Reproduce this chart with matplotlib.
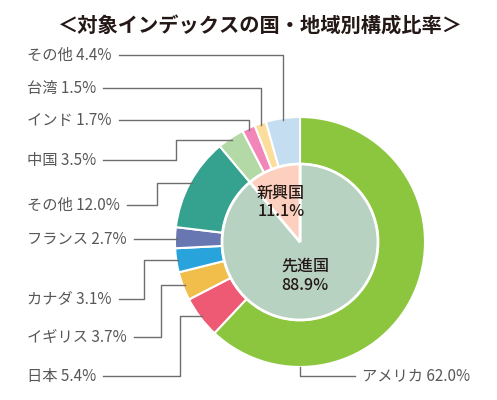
import matplotlib
matplotlib.use("Agg")
import matplotlib.pyplot as plt
import numpy as np

plt.rcParams['font.family'] = ['Noto Sans CJK JP', 'DejaVu Sans']

TITLE = "＜対象インデックスの国・地域別構成比率＞"

countries = ["アメリカ", "日本", "イギリス", "カナダ", "フランス",
             "その他", "中国", "インド", "台湾", "その他"]
shares = [62.0, 5.4, 3.7, 3.1, 2.7, 12.0, 3.5, 1.7, 1.5, 4.4]
country_colors = ["#8CC63E", "#EE5A73", "#F2BE4B", "#29A3DB", "#6877B1",
                  "#34A28F", "#B3DAA6", "#F286B8", "#FDDD9C", "#C4DDF1"]

groups = ["先進国", "新興国"]
group_shares = [88.9, 11.1]
group_colors = ["#B7D2C0", "#FCCFBE"]

# layout (pixels, y measured from the top of the image)
W, H = 497, 400
CX, CY = 300, 242
R_OUT, R_IN = 125, 78
LABEL_X = 27
# label row y and elbow x per country (None = go straight to the wedge column)
label_y = [376, 376, 337, 299, 239, 205, 160, 120, 88, 55]
elbow_x = [None, 180, 161, 144, None, 157, 176, None, None, None]

TEXT_C = "#595757"
LINE_C = "#6E6E6E"
FS = 11


def main():
    fig = plt.figure(figsize=(W / 100, H / 100), dpi=100)
    ax = fig.add_axes([0, 0, 1, 1])

    ax.pie(shares, colors=country_colors, startangle=90, counterclock=False,
           radius=R_OUT, center=(CX, H - CY),
           wedgeprops=dict(width=R_OUT - R_IN, edgecolor="white", linewidth=1.5))
    ax.pie(group_shares, colors=group_colors, startangle=90, counterclock=False,
           radius=R_IN, center=(CX, H - CY),
           wedgeprops=dict(edgecolor="white", linewidth=2))

    ax.set_xlim(0, W)
    ax.set_ylim(0, H)
    ax.set_aspect("equal")
    ax.axis("off")

    ax.text(260, H - 26, TITLE, ha="center", va="center", fontsize=14.6,
            fontweight="bold", color="#231815")

    # inner labels
    kw = dict(ha="center", va="center", fontsize=11.5, color="#231815", fontweight="medium")
    ax.text(281, H - 193, groups[1], **kw)
    ax.text(281, H - 212, f"{group_shares[1]}%", **kw)
    ax.text(305, H - 266, groups[0], **kw)
    ax.text(305, H - 285, f"{group_shares[0]}%", **kw)

    fig.canvas.draw()
    renderer = fig.canvas.get_renderer()

    cum = np.cumsum([0] + shares[:-1])
    for i, (name, val) in enumerate(zip(countries, shares)):
        mid = np.deg2rad(90 - 360 * (cum[i] + val / 2) / 100)
        ly = H - label_y[i]
        if i == 0:
            # アメリカ: label at bottom right, leader from the bottom of the ring
            axx, ayy = CX, H - CY - R_OUT
            ax.text(362, ly, f"{name} {val}%", ha="left", va="center",
                    fontsize=FS, color=TEXT_C)
            ax.plot([axx, axx, 355], [ayy, ly, ly], color=LINE_C, lw=1)
            continue
        r = R_OUT - 2
        axx = CX + r * np.cos(mid)
        ayy = H - CY + r * np.sin(mid)
        t = ax.text(LABEL_X, ly, f"{name} {val}%", ha="left", va="center",
                    fontsize=FS, color=TEXT_C)
        bb = t.get_window_extent(renderer)
        x0 = bb.x1 + 7
        if elbow_x[i] is None:
            xs = [x0, axx, axx]
            ys = [ly, ly, ayy]
        else:
            xs = [x0, elbow_x[i], elbow_x[i], axx]
            ys = [ly, ly, ayy, ayy]
        ax.plot(xs, ys, color=LINE_C, lw=1)

    fig.savefig("out.png", dpi=100)


if __name__ == "__main__":
    main()
